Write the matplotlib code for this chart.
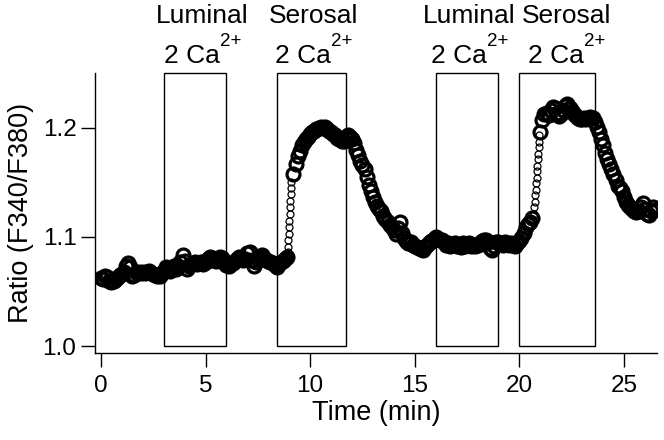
import numpy as np
import matplotlib
matplotlib.use("Agg")
import matplotlib.pyplot as plt
from matplotlib.patches import Rectangle

plt.rcParams['font.family'] = ['Liberation Sans', 'DejaVu Sans']

# ---- data ----
time_a = np.round(np.arange(0.0, 8.95, 0.1), 3)
ratio_a = [1.062, 1.061, 1.064, 1.063, 1.060, 1.059, 1.060, 1.061, 1.063, 1.065,
           1.066, 1.068, 1.073, 1.076, 1.072, 1.064, 1.065, 1.067, 1.068, 1.067,
           1.068, 1.067, 1.068, 1.069, 1.067, 1.066, 1.065, 1.064, 1.064, 1.067,
           1.069, 1.072, 1.071, 1.069, 1.071, 1.073, 1.071, 1.073, 1.077, 1.083,
           1.078, 1.071, 1.073, 1.075, 1.076, 1.077, 1.075, 1.076, 1.077, 1.075,
           1.077, 1.080, 1.082, 1.081, 1.079, 1.078, 1.080, 1.082, 1.081, 1.077,
           1.074, 1.073, 1.075, 1.076, 1.078, 1.080, 1.082, 1.081, 1.079, 1.080,
           1.085, 1.086, 1.079, 1.073, 1.077, 1.080, 1.082, 1.083, 1.081, 1.079,
           1.078, 1.077, 1.076, 1.074, 1.072, 1.075, 1.077, 1.078, 1.080, 1.082]

time_rise1 = [8.917, 8.933, 8.950, 8.967, 8.983, 9.000, 9.017, 9.033, 9.050,
              9.067, 9.083, 9.100]
ratio_rise1 = [1.086, 1.091, 1.097, 1.103, 1.109, 1.115, 1.121, 1.127, 1.133,
               1.139, 1.145, 1.150]

time_b = np.round(np.arange(9.2, 20.65, 0.1), 3)
ratio_b = [1.158, 1.167, 1.174, 1.179, 1.184, 1.187, 1.190, 1.192, 1.194, 1.196,
           1.197, 1.199, 1.200, 1.201, 1.200, 1.201, 1.199, 1.197, 1.196, 1.194,
           1.193, 1.191, 1.190, 1.188, 1.188, 1.191, 1.193, 1.192, 1.190, 1.186,
           1.180, 1.175, 1.170, 1.166, 1.162, 1.155, 1.148, 1.142, 1.137, 1.132,
           1.128, 1.126, 1.124, 1.119, 1.116, 1.114, 1.111, 1.109, 1.106, 1.103,
           1.108, 1.114, 1.104, 1.099, 1.096, 1.094, 1.095, 1.093, 1.092, 1.091,
           1.090, 1.089, 1.088, 1.091, 1.093, 1.094, 1.096, 1.098, 1.100, 1.098,
           1.097, 1.097, 1.095, 1.093, 1.094, 1.092, 1.093, 1.094, 1.092, 1.093,
           1.091, 1.094, 1.092, 1.093, 1.094, 1.092, 1.093, 1.092, 1.093, 1.094,
           1.096, 1.097, 1.097, 1.095, 1.090, 1.088, 1.092, 1.095, 1.095, 1.094,
           1.093, 1.095, 1.094, 1.093, 1.094, 1.093, 1.092, 1.094, 1.096, 1.099,
           1.104, 1.109, 1.112, 1.114, 1.117]

time_rise2 = [20.70, 20.72, 20.74, 20.76, 20.78, 20.80, 20.82, 20.84, 20.86,
              20.88, 20.90, 20.92, 20.94, 20.96]
ratio_rise2 = [1.121, 1.127, 1.132, 1.138, 1.143, 1.149, 1.154, 1.160, 1.165,
               1.171, 1.176, 1.182, 1.187, 1.193]

time_c = np.round(np.arange(21.0, 26.55, 0.1), 3)
ratio_c = [1.196, 1.207, 1.213, 1.214, 1.212, 1.216, 1.219, 1.218, 1.214, 1.211,
           1.213, 1.216, 1.220, 1.222, 1.218, 1.215, 1.213, 1.211, 1.209, 1.208,
           1.208, 1.209, 1.208, 1.209, 1.210, 1.209, 1.205, 1.201, 1.196, 1.190,
           1.184, 1.177, 1.171, 1.167, 1.162, 1.158, 1.152, 1.147, 1.145, 1.142,
           1.137, 1.132, 1.129, 1.127, 1.126, 1.124, 1.123, 1.124, 1.127, 1.131,
           1.126, 1.121, 1.120, 1.124, 1.127, 1.125]

box_start = [3.0, 8.4, 16.0, 20.0]
box_end = [6.0, 11.7, 19.0, 23.6]
box_names = ["Luminal", "Serosal", "Luminal", "Serosal"]
label_x = [4.85, 10.15, 17.6, 22.25]

# ---- figure ----
W, H = 664, 440
fig = plt.figure(figsize=(W / 100, H / 100), dpi=100)
ax = fig.add_axes([94.5 / W, 87 / H, (657 - 94.5) / W, (353 - 73.3) / H])

ax.set_xlim(-0.31, 26.58)
ax.set_ylim(0.9936, 1.25)

# slowly varying parts: densely overlapping circles form a dark band
for t, r in [(time_a, ratio_a), (time_b, ratio_b), (time_c, ratio_c)]:
    ax.plot(t, r, linestyle='none', marker='o', markersize=9.3,
            markerfacecolor='none', markeredgecolor='black', markeredgewidth=2.3)
# fast rises: separated open circles
for t, r in [(time_rise1, ratio_rise1), (time_rise2, ratio_rise2)]:
    ax.plot(t, r, linestyle='none', marker='o', markersize=5,
            markerfacecolor='none', markeredgecolor='black', markeredgewidth=0.9)

for s, e in zip(box_start, box_end):
    ax.add_patch(Rectangle((s, 1.0), e - s, 1.25 - 1.0, fill=False,
                           edgecolor='black', linewidth=1.0, clip_on=False))

trans = ax.get_xaxis_transform()
for x, name in zip(label_x, box_names):
    ax.annotate(name, xy=(x, 1.0), xycoords=trans, xytext=(0, 36.5),
                textcoords='offset points', ha='center', va='baseline',
                fontsize=19, annotation_clip=False)
    ax.annotate("2 Ca", xy=(x, 1.0), xycoords=trans, xytext=(12.5, 7.3),
                textcoords='offset points', ha='right', va='baseline',
                fontsize=19, annotation_clip=False)
    ax.annotate("2+", xy=(x, 1.0), xycoords=trans, xytext=(13.0, 19.3),
                textcoords='offset points', ha='left', va='baseline',
                fontsize=13.5, annotation_clip=False)

for side in ['top', 'right']:
    ax.spines[side].set_visible(False)
for side in ['left', 'bottom']:
    ax.spines[side].set_linewidth(1.0)

ax.set_xticks([0, 5, 10, 15, 20, 25])
ax.set_yticks([1.0, 1.1, 1.2])
ax.set_yticklabels(["1.0", "1.1", "1.2"])
ax.tick_params(axis='both', direction='out', length=10, width=1.0,
               labelsize=17.5, colors='black')
ax.tick_params(axis='x', pad=6)
ax.tick_params(axis='y', pad=3)

ax.set_xlabel("Time (min)", fontsize=19.5, labelpad=2)
ax.set_ylabel("Ratio (F340/F380)", fontsize=19.5, labelpad=6)

fig.savefig("out.png", dpi=100)
